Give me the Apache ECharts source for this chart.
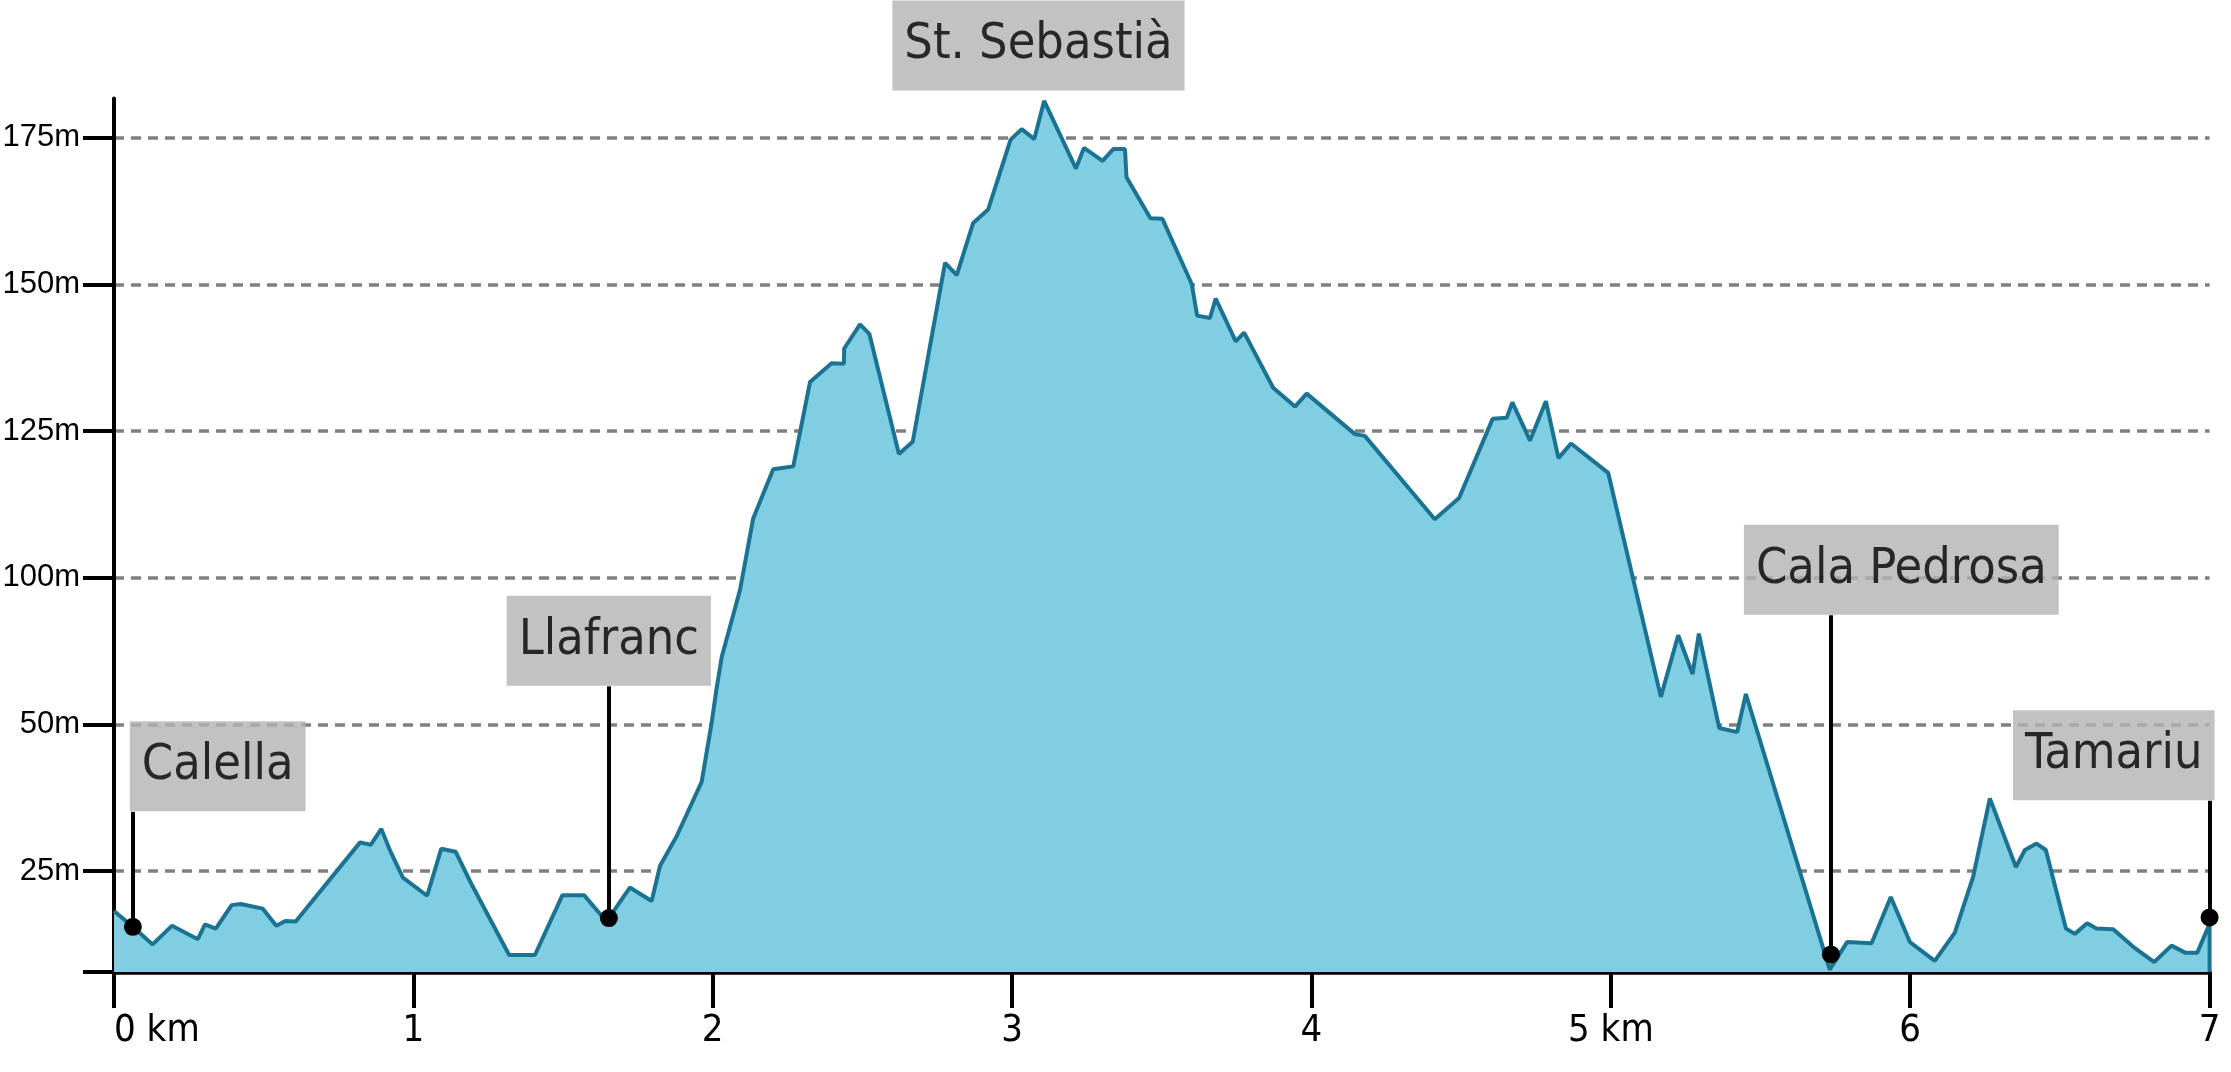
<!DOCTYPE html>
<html>
<head>
<meta charset="utf-8">
<script src="https://cdn.jsdelivr.net/npm/echarts@6/dist/echarts.min.js"></script>
<style>
html,body{margin:0;padding:0;background:#ffffff;}
#chart{width:2231px;height:1072px;}
</style>
</head>
<body>
<div id="chart"></div>
<script>
// ---- data ----
const distanceKm = [
  0.000,0.063,0.129,0.194,0.280,0.304,0.340,0.393,0.423,0.497,0.542,0.572,0.607,0.822,0.858,0.893,0.923,0.965,
  1.046,1.093,1.141,1.197,1.320,1.406,1.498,1.570,1.645,1.723,1.796,1.824,1.879,1.963,1.996,2.013,2.030,2.091,
  2.135,2.202,2.269,2.325,2.397,2.438,2.439,2.492,2.523,2.622,2.668,2.776,2.815,2.870,2.920,2.995,3.032,3.074,
  3.107,3.213,3.240,3.302,3.338,3.377,3.382,3.462,3.502,3.600,3.618,3.661,3.680,3.747,3.775,3.872,3.945,3.984,
  4.145,4.178,4.412,4.493,4.605,4.652,4.671,4.730,4.783,4.825,4.867,4.991,5.167,5.225,5.273,5.294,5.362,5.422,
  5.451,5.731,5.789,5.871,5.935,5.999,6.082,6.149,6.210,6.266,6.353,6.383,6.422,6.453,6.520,6.550,6.591,6.622,
  6.678,6.745,6.815,6.873,6.918,6.959,7.000,7.000
];
const elevation = [
  18.2,15.5,12.5,15.7,13.4,15.9,15.2,19.2,19.4,18.6,15.7,16.5,16.4,29.9,29.5,32.2,28.4,23.9,
  20.8,28.8,28.3,22.5,10.7,10.7,20.9,20.9,16.4,22.2,19.9,25.9,30.9,40.2,50.2,56.2,61.5,72.9,
  85.1,93.5,94.0,108.4,111.6,111.5,114.1,118.2,116.6,96.1,98.2,128.7,126.6,135.5,137.8,149.7,151.5,149.8,
  156.3,144.8,148.3,146.1,148.1,148.1,143.3,136.3,136.2,125.1,119.7,119.3,122.6,115.3,116.8,107.4,104.2,106.4,
  99.5,99.2,85.0,88.6,102.1,102.3,104.9,98.4,105.1,95.4,97.9,92.9,54.7,65.2,58.6,65.5,49.4,48.7,
  55.2,8.2,12.9,12.7,20.6,12.9,9.7,14.5,24.0,37.4,25.7,28.6,29.7,28.6,15.2,14.3,16.1,15.2,
  15.1,12.1,9.5,12.3,11.1,11.1,16.0,7.8
];
const xTickValues = [0,1,2,3,4,5,6,7];
const xTickLabels = ['0 km','1','2','3','4','5 km','6','7'];
const yTickValues = [25,50,75,100,125,150];
const yTickLabels = ['25m','50m','100m','125m','150m','175m'];
const placeNames = ['Calella','Llafranc','St. Sebastià','Cala Pedrosa','Tamariu'];
const placeKm = [0.063,1.653,3.088,5.735,7.0];
const placeElev = [15.5,17.0,null,10.8,17.1];
const placeLabelElev = [35.1,56.5,158.0,68.6,37.0];
const Y_MIN = 7.8;
const Y_MAX = 156.7;

// ---- styles ----
const labelStyles = [
  {align:'left', offset:[-3,0]},
  {align:'center', offset:[0,0]},
  {align:'center', offset:[0,0]},
  {align:'left', offset:[-87,0]},
  {align:'right', offset:[5,0]}
];
const condensedFont = "'Liberation Sans Narrow','DejaVu Sans Condensed','DejaVu Sans',sans-serif";

const chart = echarts.init(document.getElementById('chart'), null, {renderer:'canvas'});

const profile = distanceKm.map((x,i)=>[x, elevation[i]]);
const dots = [];
const connectors = [];
placeNames.forEach((n,i)=>{
  if (placeElev[i] != null) {
    dots.push([placeKm[i], placeElev[i]]);
    connectors.push([{coord:[placeKm[i], placeElev[i]]},{coord:[placeKm[i], placeLabelElev[i]]}]);
  }
});
const labelData = placeNames.map((n,i)=>({
  name:n,
  value:[placeKm[i], placeLabelElev[i]],
  label:{align:labelStyles[i].align, offset:labelStyles[i].offset}
}));

const option = {
  animation:false,
  backgroundColor:'#ffffff',
  grid:{left:114, right:21.4, top:98.6, bottom:100, containLabel:false, outerBoundsMode:'none'},
  xAxis:{
    type:'value', min:0, max:7, interval:1,
    axisLine:{show:true, lineStyle:{color:'#000', width:4.5}},
    axisTick:{show:true, length:36, inside:false, lineStyle:{color:'#000', width:4}},
    axisLabel:{
      show:true, margin:40, color:'#000', fontSize:38,
      fontFamily:condensedFont,
      alignMinLabel:'left',
      formatter:(v)=>{const k=xTickValues.indexOf(Math.round(v)); return k>=0?xTickLabels[k]:'';}
    },
    splitLine:{show:false}
  },
  yAxis:{
    type:'value', min:Y_MIN, max:Y_MAX,
    axisLine:{show:true, lineStyle:{color:'#000', width:4}},
    axisTick:{show:true, length:31, inside:false, customValues:[Y_MIN].concat(yTickValues), lineStyle:{color:'#000', width:4}},
    axisLabel:{
      show:true, margin:34, color:'#000', fontSize:31,
      fontFamily:"'Liberation Sans',Arial,sans-serif",
      customValues:yTickValues,
      formatter:(v)=>{const k=yTickValues.indexOf(Math.round(v)); return k>=0?yTickLabels[k]:'';}
    },
    splitLine:{show:true, showMinLine:false, lineStyle:{color:'#808080', width:3.5, type:[10,7]}}
  },
  series:[
    {
      type:'line', name:'profile', data:profile, symbol:'none', smooth:false,
      lineStyle:{color:'#1b7393', width:4},
      areaStyle:{color:'#80cee1', opacity:1, origin:'start'},
      z:2
    },
    {
      type:'scatter', name:'places', data:dots, symbol:'circle', symbolSize:18,
      itemStyle:{color:'#000', opacity:1}, z:5,
      markLine:{
        silent:true, symbol:['none','none'], label:{show:false},
        lineStyle:{color:'#000', width:4, type:'solid', opacity:1},
        data:connectors
      }
    },
    {
      type:'scatter', name:'labels', data:labelData, symbol:'circle', symbolSize:1, clip:false, z:6,
      itemStyle:{color:'rgba(0,0,0,0)'},
      label:{
        show:true, position:'top', distance:0,
        formatter:(p)=>p.name,
        backgroundColor:'#b3b3b3', padding:[20,12,20,12],
        color:'#000', fontSize:50, lineHeight:50,
        fontFamily:condensedFont
      }
    }
  ]
};
chart.setOption(option);
</script>
</body>
</html>
